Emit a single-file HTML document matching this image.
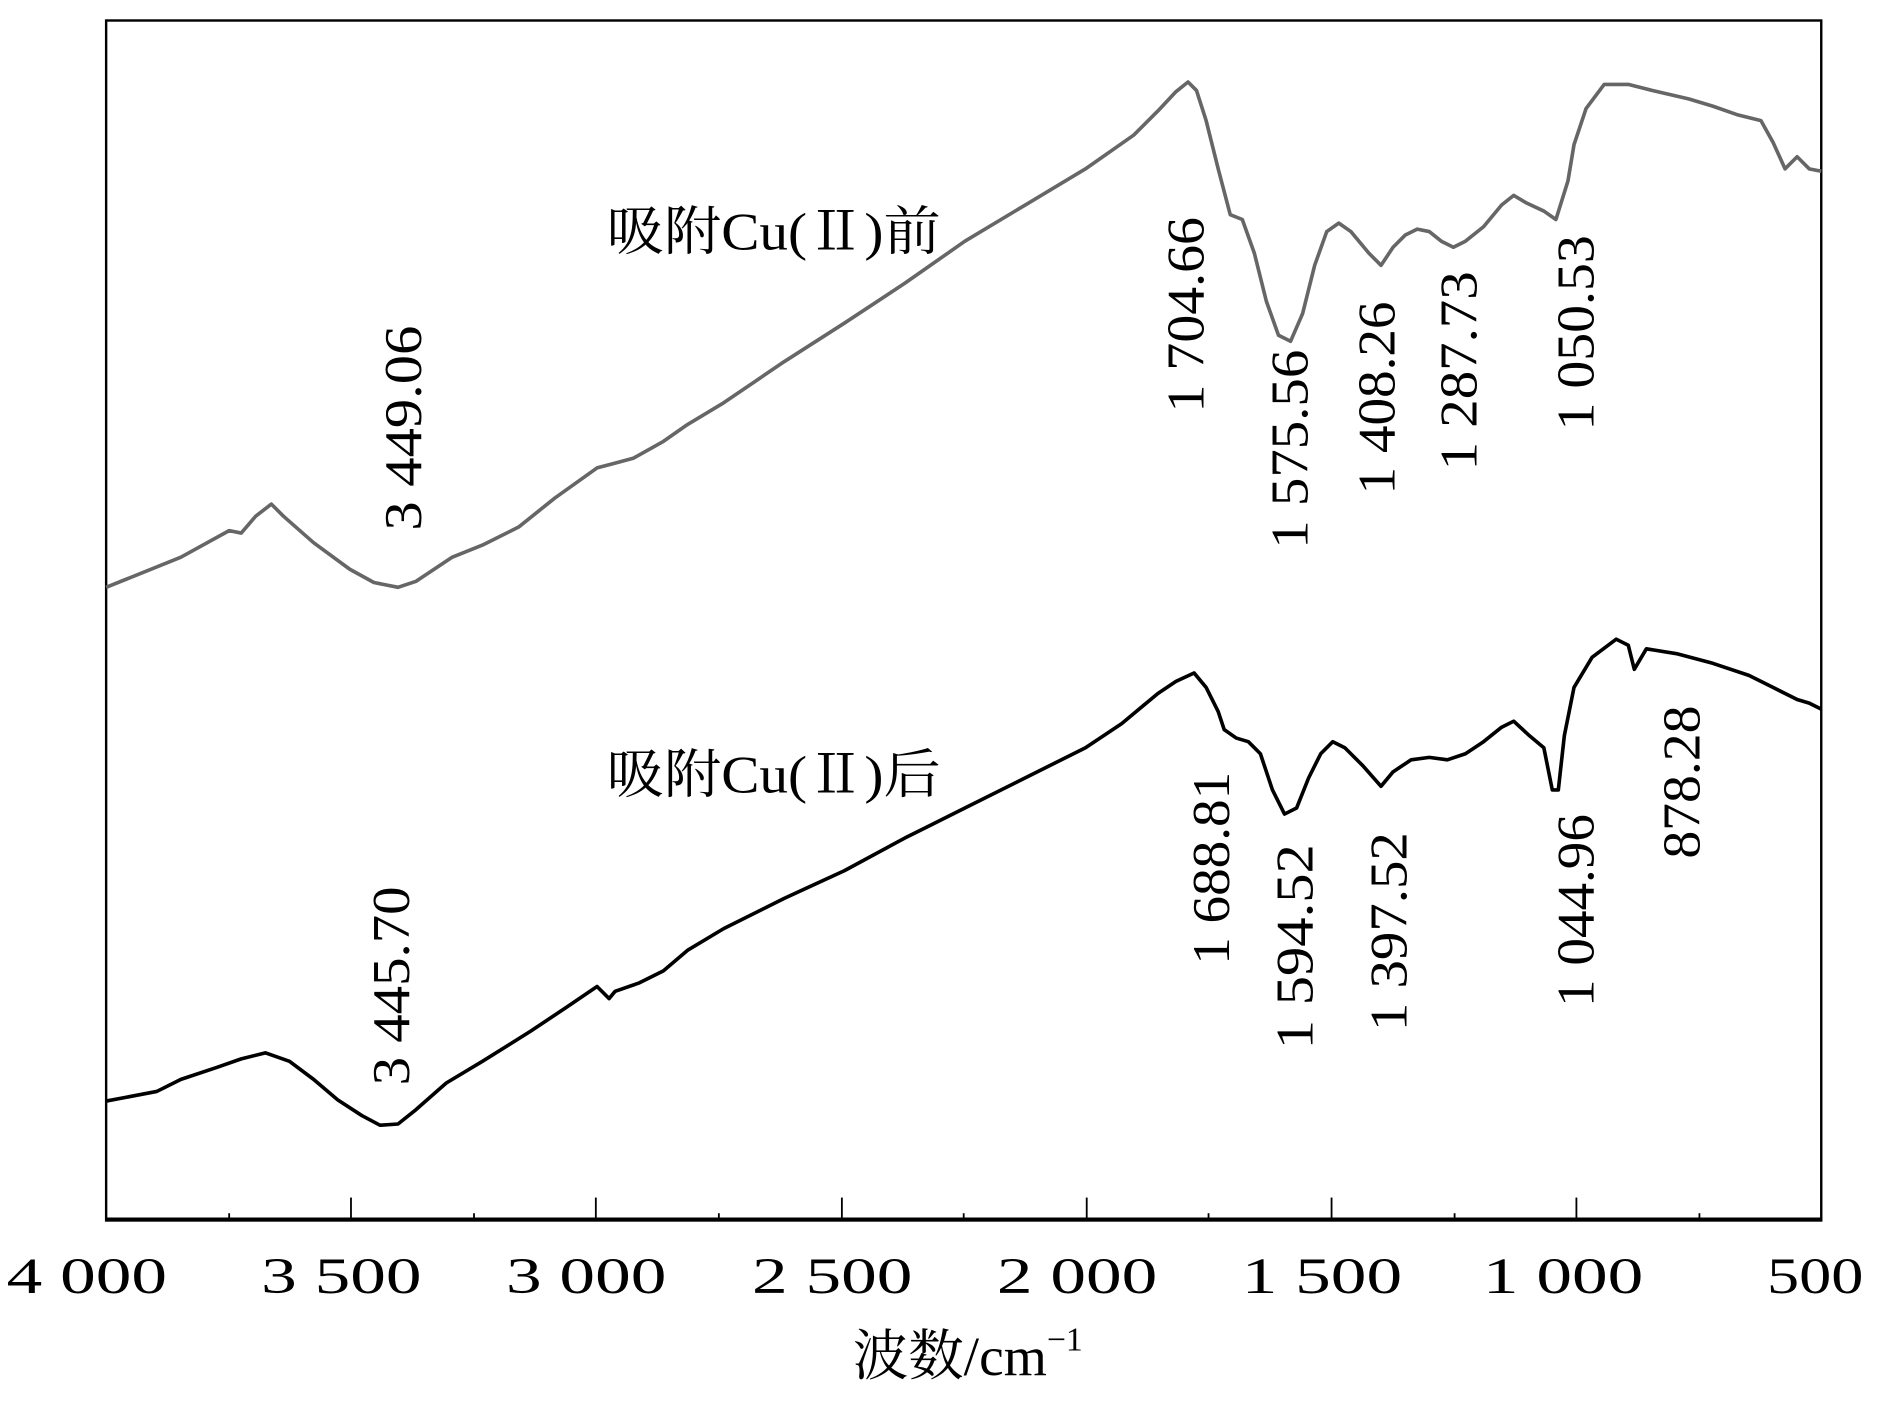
<!DOCTYPE html>
<html><head><meta charset="utf-8"><style>
html,body{margin:0;padding:0;background:#fff;}
svg{display:block;}
text{font-family:"Liberation Serif","Noto Serif CJK SC",serif;fill:#000;}
</style></head><body>
<svg width="1890" height="1405" viewBox="0 0 1567 1165" preserveAspectRatio="none" xmlns="http://www.w3.org/2000/svg">
<rect x="0" y="0" width="1567" height="1165" fill="#fff"/>
<rect x="88" y="17" width="1422" height="995" fill="none" stroke="#000" stroke-width="2"/>
<line x1="88" y1="1011" x2="1510" y2="1011" stroke="#000" stroke-width="3"/>
<g stroke="#000" stroke-width="1.5">
<line x1="291" y1="1011" x2="291" y2="993"/><line x1="494" y1="1011" x2="494" y2="993"/>
<line x1="698" y1="1011" x2="698" y2="993"/><line x1="901" y1="1011" x2="901" y2="993"/>
<line x1="1104" y1="1011" x2="1104" y2="993"/><line x1="1307" y1="1011" x2="1307" y2="993"/>
<line x1="190" y1="1011" x2="190" y2="1006"/><line x1="393" y1="1011" x2="393" y2="1006"/>
<line x1="596" y1="1011" x2="596" y2="1006"/><line x1="799" y1="1011" x2="799" y2="1006"/>
<line x1="1002" y1="1011" x2="1002" y2="1006"/><line x1="1206" y1="1011" x2="1206" y2="1006"/>
<line x1="1409" y1="1011" x2="1409" y2="1006"/>
</g>
<g font-size="42" text-anchor="middle">
<text x="72" y="1072" textLength="133" lengthAdjust="spacingAndGlyphs">4 000</text>
<text x="283" y="1072" textLength="133" lengthAdjust="spacingAndGlyphs">3 500</text>
<text x="486" y="1072" textLength="133" lengthAdjust="spacingAndGlyphs">3 000</text>
<text x="690" y="1072" textLength="133" lengthAdjust="spacingAndGlyphs">2 500</text>
<text x="893" y="1072" textLength="133" lengthAdjust="spacingAndGlyphs">2 000</text>
<text x="1096" y="1072" textLength="133" lengthAdjust="spacingAndGlyphs">1 500</text>
<text x="1296" y="1072" textLength="133" lengthAdjust="spacingAndGlyphs">1 000</text>
<text x="1505" y="1072" textLength="80" lengthAdjust="spacingAndGlyphs">500</text>
</g>
<text x="707" y="1140" font-size="46">波数/cm<tspan dy="-20" font-size="28">−1</tspan></text>
<polyline fill="none" stroke="#666" stroke-width="3" stroke-linejoin="round" points="88,487 150,462 190,440 200,442 212,428 225,418 235,428 260,450 290,472 310,483 330,487 345,482 375,462 400,452 430,437 460,413 495,388 510,384 525,380 550,366 570,352 600,334 650,300 700,268 750,235 800,200 850,170 900,140 940,112 960,92 975,76 985,68 992,75 1000,100 1010,140 1020,178 1030,182 1040,210 1050,250 1060,278 1070,283 1080,260 1090,220 1100,192 1110,185 1120,192 1135,210 1145,220 1155,205 1165,195 1175,190 1185,192 1195,200 1205,205 1215,200 1230,188 1245,170 1255,162 1265,168 1280,175 1290,182 1300,150 1305,120 1315,90 1330,70 1350,70 1370,75 1400,82 1420,88 1440,95 1460,100 1470,118 1480,140 1490,130 1500,140 1510,142"/>
<polyline fill="none" stroke="#000" stroke-width="3" stroke-linejoin="round" points="88,913 130,905 150,895 180,885 200,878 220,873 240,880 260,895 280,912 300,925 315,933 330,932 345,920 370,898 400,880 440,855 470,835 495,818 505,828 510,822 530,815 550,805 570,788 600,770 650,745 700,722 750,695 770,685 800,670 850,645 900,620 930,600 960,575 975,565 990,558 1000,570 1010,590 1015,605 1025,612 1035,615 1045,625 1055,655 1065,675 1075,670 1085,645 1095,625 1105,615 1115,620 1130,635 1145,652 1155,640 1170,630 1185,628 1200,630 1215,625 1230,615 1245,603 1255,598 1268,610 1280,620 1287,655 1292,655 1297,610 1305,570 1320,545 1340,530 1350,535 1355,555 1365,538 1390,542 1420,550 1450,560 1470,570 1490,580 1500,583 1510,588"/>
<g font-size="44">
<text x="503" y="207" textLength="277" lengthAdjust="spacingAndGlyphs">吸附Cu(Ⅱ)前</text>
<text x="503" y="657" textLength="277" lengthAdjust="spacingAndGlyphs">吸附Cu(Ⅱ)后</text>
</g>
<g font-size="44">
<text transform="translate(349,440) rotate(-90)" textLength="170" lengthAdjust="spacingAndGlyphs">3 449.06</text>
<text transform="translate(998,342) rotate(-90)" textLength="162" lengthAdjust="spacingAndGlyphs">1 704.66</text>
<text transform="translate(1084,455) rotate(-90)" textLength="165" lengthAdjust="spacingAndGlyphs">1 575.56</text>
<text transform="translate(1156,410) rotate(-90)" textLength="160" lengthAdjust="spacingAndGlyphs">1 408.26</text>
<text transform="translate(1224,390) rotate(-90)" textLength="165" lengthAdjust="spacingAndGlyphs">1 287.73</text>
<text transform="translate(1321,357) rotate(-90)" textLength="162" lengthAdjust="spacingAndGlyphs">1 050.53</text>
<text transform="translate(339,900) rotate(-90)" textLength="165" lengthAdjust="spacingAndGlyphs">3 445.70</text>
<text transform="translate(1019,800) rotate(-90)" textLength="160" lengthAdjust="spacingAndGlyphs">1 688.81</text>
<text transform="translate(1088,870) rotate(-90)" textLength="170" lengthAdjust="spacingAndGlyphs">1 594.52</text>
<text transform="translate(1166,855) rotate(-90)" textLength="165" lengthAdjust="spacingAndGlyphs">1 397.52</text>
<text transform="translate(1321,835) rotate(-90)" textLength="160" lengthAdjust="spacingAndGlyphs">1 044.96</text>
<text transform="translate(1409,712) rotate(-90)" textLength="127" lengthAdjust="spacingAndGlyphs">878.28</text>
</g>
</svg>
</body></html>
